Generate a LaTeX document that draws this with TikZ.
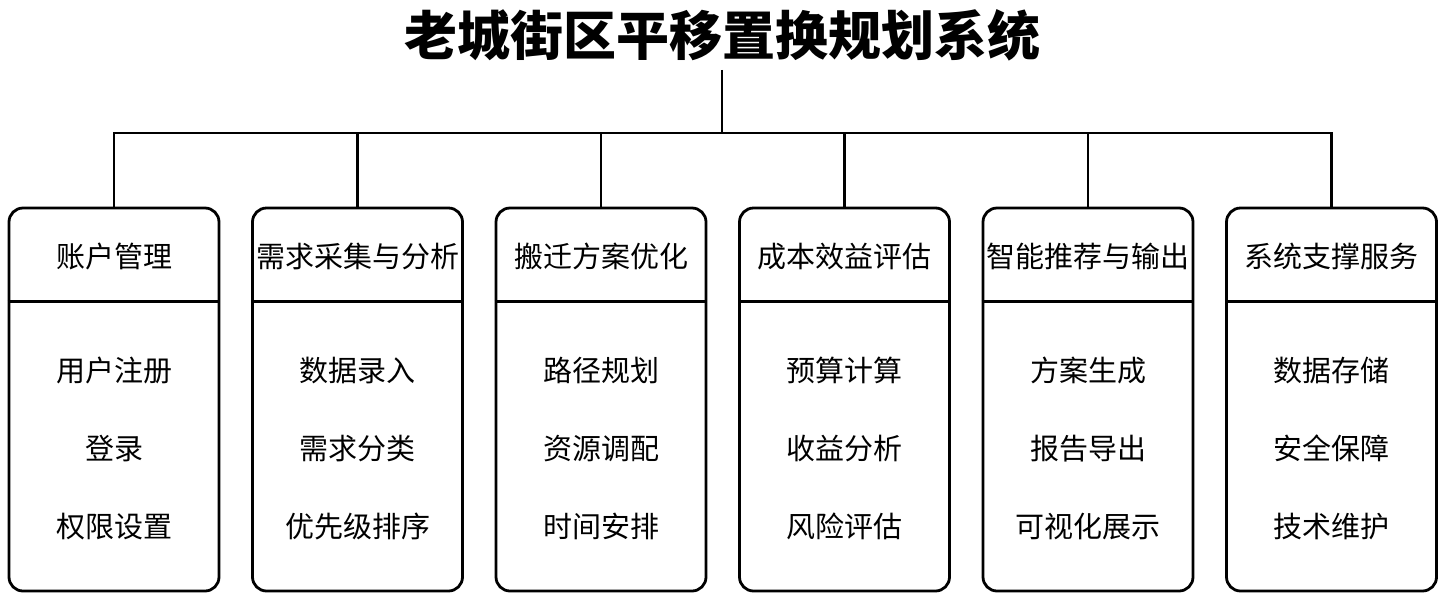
\documentclass[tikz,border=0pt]{standalone}
\usepackage{fontspec}
\setmainfont{Noto Sans CJK SC}
\usetikzlibrary{positioning}

\begin{document}
\begin{tikzpicture}[
      x=1pt, y=-1pt,
      line width=2.8pt,
      node distance=30.7pt,
      modbox/.style={draw, rounded corners=14pt, minimum width=210pt, minimum height=383pt, inner sep=0pt},
      head/.style={font=\fontsize{29}{34}\selectfont, inner sep=0pt},
      items/.style={font=\fontsize{29}{78}\selectfont, align=center, inner sep=0pt}
    ]
    \useasboundingbox (0,0) rectangle (1442,598);

    \node[font=\fontsize{53}{60}\selectfont\bfseries, inner sep=0pt, outer sep=9pt] (title) at (722,35) {老城街区平移置换规划系统};
    \coordinate (bus) at (722,133);

    \node[modbox] (m1) at (114,399.5) {};
    \node[modbox, right=of m1] (m2) {};
    \node[modbox, right=of m2] (m3) {};
    \node[modbox, right=of m3] (m4) {};
    \node[modbox, right=of m4] (m5) {};
    \node[modbox, right=of m5] (m6) {};

    % header line of each box
    \draw ([yshift=-95pt]m1.north west) -- ([yshift=-95pt]m1.north east);
    \draw ([yshift=-95pt]m2.north west) -- ([yshift=-95pt]m2.north east);
    \draw ([yshift=-95pt]m3.north west) -- ([yshift=-95pt]m3.north east);
    \draw ([yshift=-95pt]m4.north west) -- ([yshift=-95pt]m4.north east);
    \draw ([yshift=-95pt]m5.north west) -- ([yshift=-95pt]m5.north east);
    \draw ([yshift=-95pt]m6.north west) -- ([yshift=-95pt]m6.north east);

    \node[head] (h1) at ([yshift=-50pt]m1.north) {账户管理};
    \node[head] (h2) at ([yshift=-50pt]m2.north) {需求采集与分析};
    \node[head] (h3) at ([yshift=-50pt]m3.north) {搬迁方案优化};
    \node[head] (h4) at ([yshift=-50pt]m4.north) {成本效益评估};
    \node[head] (h5) at ([yshift=-50pt]m5.north) {智能推荐与输出};
    \node[head] (h6) at ([yshift=-50pt]m6.north) {系统支撑服务};

    \node[items] (f1) at ([yshift=-242pt]m1.north) {用户注册\\登录\\权限设置};
    \node[items] (f2) at ([yshift=-242pt]m2.north) {数据录入\\需求分类\\优先级排序};
    \node[items] (f3) at ([yshift=-242pt]m3.north) {路径规划\\资源调配\\时间安排};
    \node[items] (f4) at ([yshift=-242pt]m4.north) {预算计算\\收益分析\\风险评估};
    \node[items] (f5) at ([yshift=-242pt]m5.north) {方案生成\\报告导出\\可视化展示};
    \node[items] (f6) at ([yshift=-242pt]m6.north) {数据存储\\安全保障\\技术维护};

    \draw (title.south) -- (bus);
    \draw (m1.north) |- (bus) -| (m6.north);
    \draw (m2.north) -- (m2.north |- bus);
    \draw (m3.north) -- (m3.north |- bus);
    \draw (m4.north) -- (m4.north |- bus);
    \draw (m5.north) -- (m5.north |- bus);
  \end{tikzpicture}
\end{document}
